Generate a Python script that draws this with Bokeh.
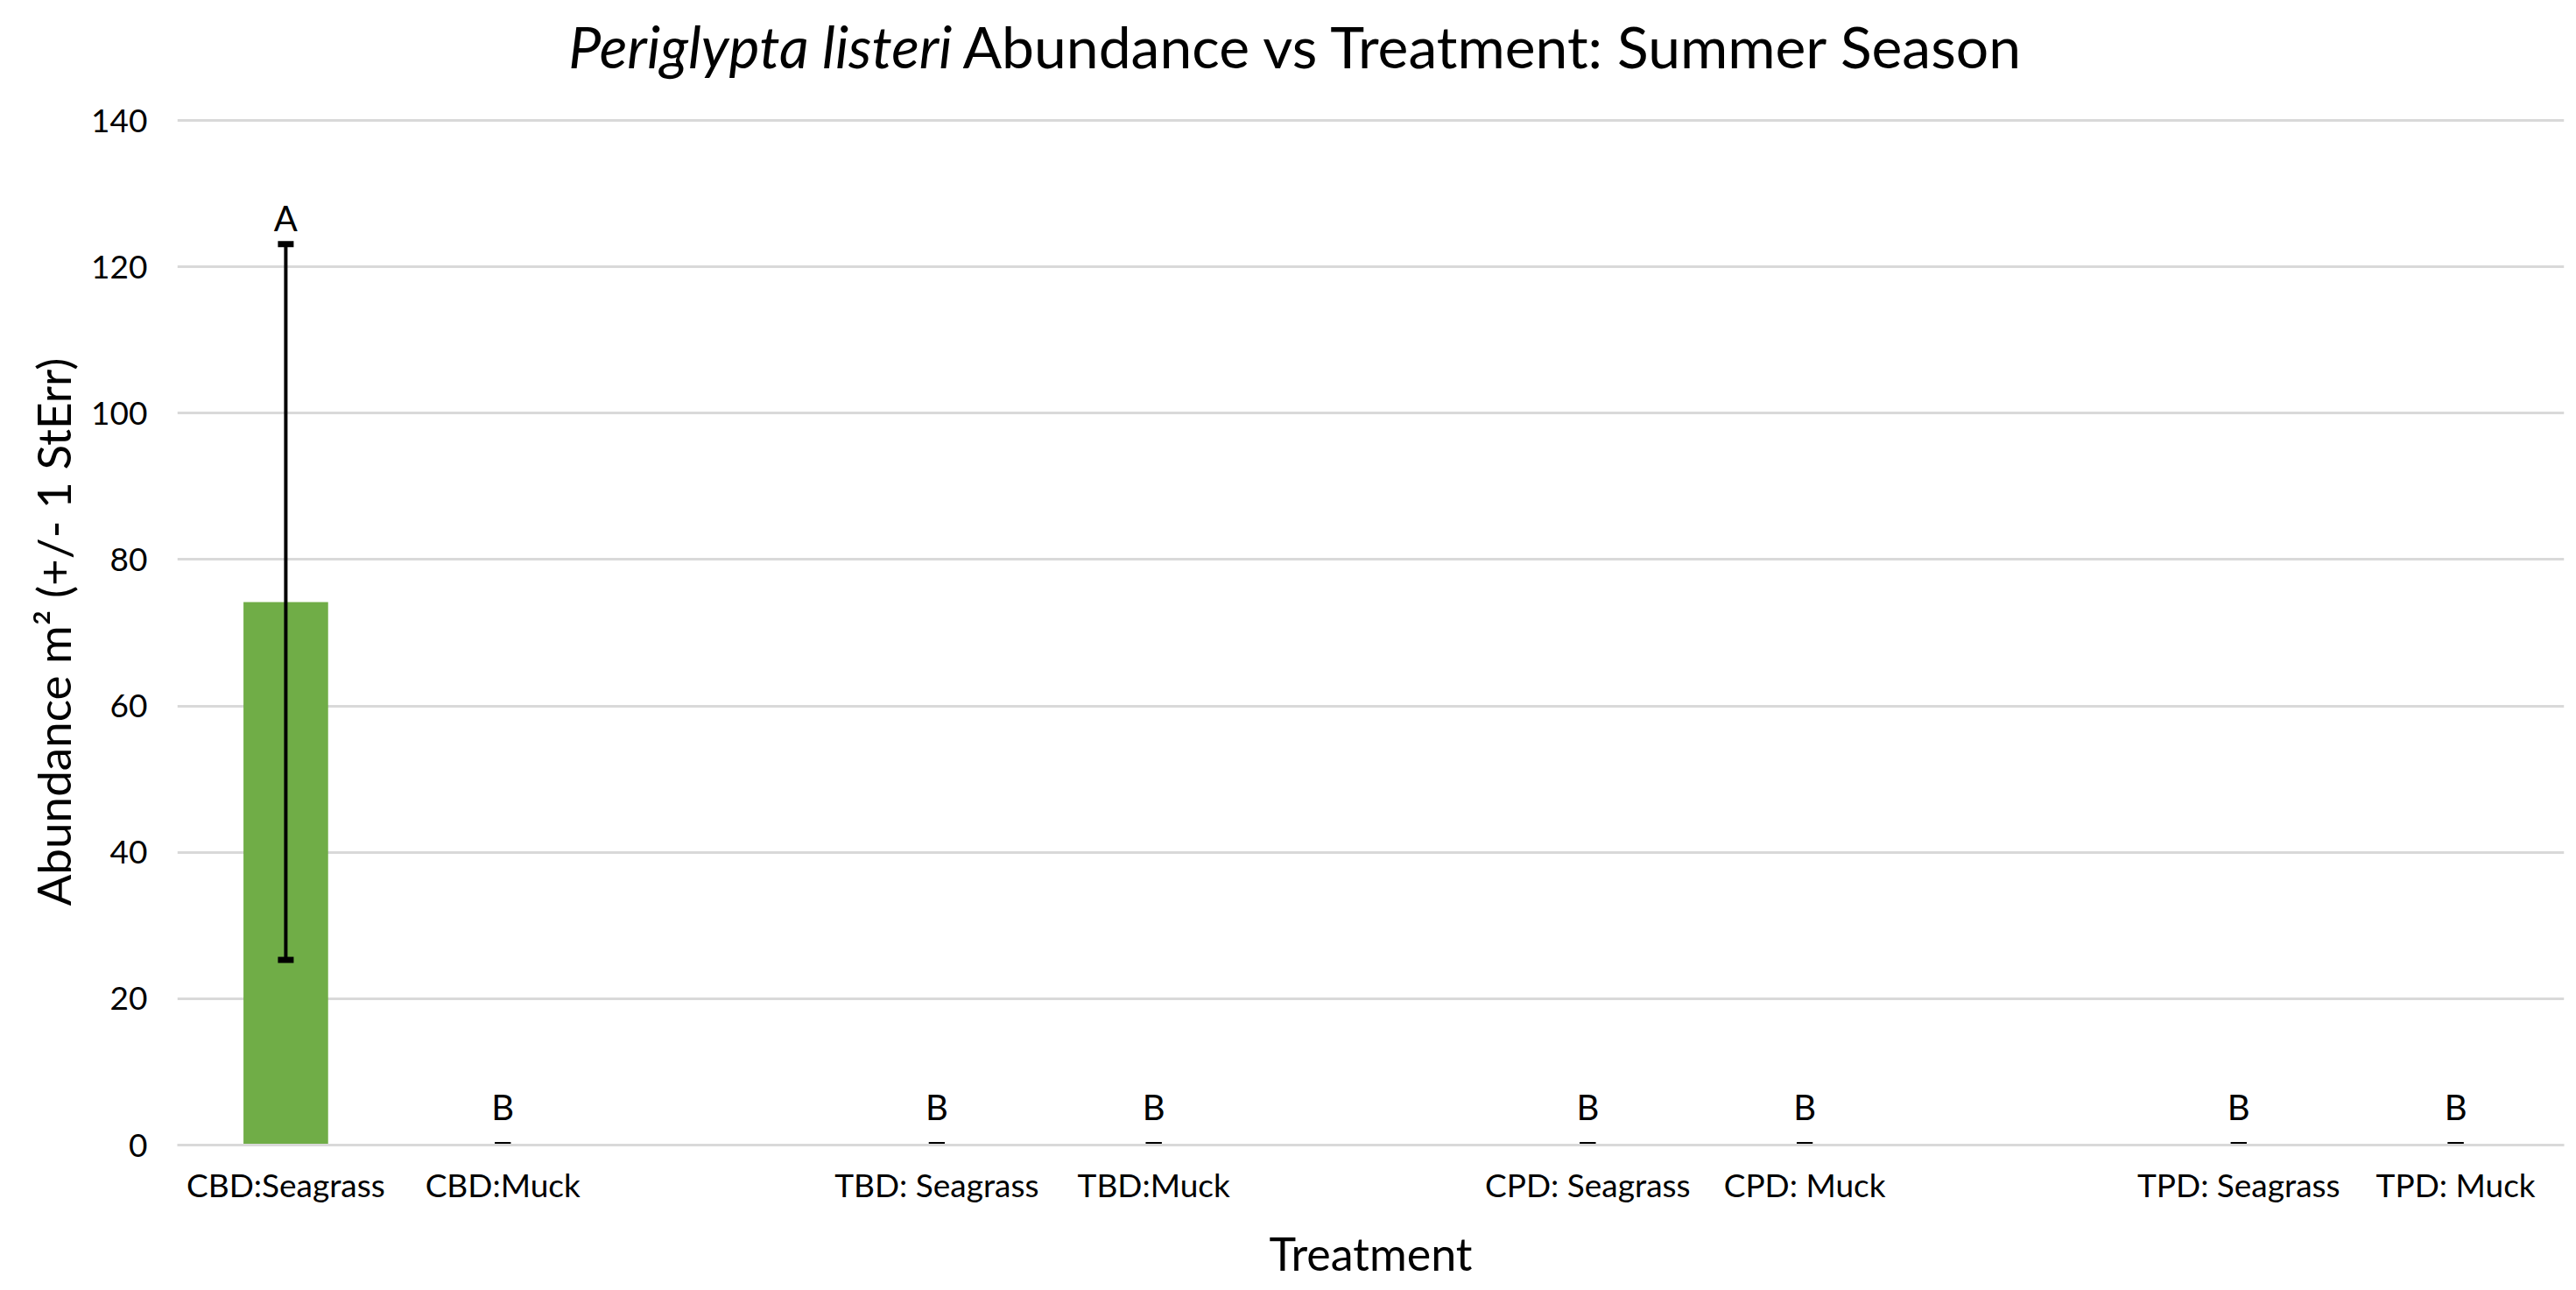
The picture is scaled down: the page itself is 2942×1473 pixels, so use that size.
from bokeh.plotting import figure
from bokeh.layouts import column
from bokeh.models import FactorRange, Range1d, ColumnDataSource, FixedTicker
from bokeh.embed import file_html
from bokeh.resources import INLINE
from bokeh.core.properties import value

# ---- data ----
sites = ["CBD", "CBD", "TBD", "TBD", "CPD", "CPD", "TPD", "TPD"]
treatments = ["CBD:Seagrass", "CBD:Muck", "TBD: Seagrass", "TBD:Muck",
              "CPD: Seagrass", "CPD: Muck", "TPD: Seagrass", "TPD: Muck"]
means = [74.2, 0, 0, 0, 0, 0, 0, 0]
stderr = [48.9, 0, 0, 0, 0, 0, 0, 0]
letters = ["A", "B", "B", "B", "B", "B", "B", "B"]
y_ticks = [0, 20, 40, 60, 80, 100, 120, 140]
title_italic = "Periglypta listeri"
title_rest = "Abundance vs Treatment: Summer Season"
x_title = "Treatment"
y_title = "Abundance m\u00b2 (+/- 1 StErr)"

FONT = "Lato"
W = 2942
H = 1473
TITLE_H = 110
MAIN_H = H - TITLE_H
LEFT, RIGHT = 202, 14

factors = list(zip(sites, treatments))
upper = [m + s for m, s in zip(means, stderr)]
lower = [m - s for m, s in zip(means, stderr)]
src = ColumnDataSource(dict(x=factors, top=means, upper=upper, lower=lower, letter=letters))

# ---- title strip (x units = page pixels) ----
tf = figure(width=W, height=TITLE_H, x_range=Range1d(LEFT, W - RIGHT), y_range=Range1d(0, TITLE_H),
            output_backend="svg", toolbar_location=None,
            min_border_left=LEFT, min_border_right=RIGHT, min_border_top=0, min_border_bottom=0)
tf.axis.visible = False
tf.grid.visible = False
tf.outline_line_color = None
tf.text(x=[1087], y=[TITLE_H - 52], text=[title_italic], text_font=value(FONT),
        text_font_size="66px", text_font_style="italic", text_align="right",
        text_baseline="alphabetic", text_color="black")
tf.text(x=[1099], y=[TITLE_H - 52], text=[title_rest], text_font=value(FONT),
        text_font_size="66px", text_font_style="normal", text_align="left",
        text_baseline="alphabetic", text_color="black")

# ---- main chart ----
p = figure(
    width=W, height=MAIN_H,
    x_range=FactorRange(factors=factors, group_padding=1.0, range_padding=0),
    y_range=Range1d(0, 140.24),
    output_backend="svg", toolbar_location=None,
    min_border_left=LEFT, min_border_right=RIGHT, min_border_top=135 - TITLE_H,
    min_border_bottom=H - 1307,
)
p.outline_line_color = None

p.vbar(x="x", top="top", width=0.39, source=src, fill_color="#70AD47", line_color=None)
p.segment(x0="x", y0="lower", x1="x", y1="upper", source=src, line_color="black", line_width=4)
p.rect(x="x", y="upper", width=18, height=7, width_units="screen", height_units="screen",
       source=src, fill_color="black", line_color=None)
p.rect(x="x", y="lower", width=18, height=7, width_units="screen", height_units="screen",
       source=src, fill_color="black", line_color=None)

# significance letters
idx_a = [i for i, s in enumerate(stderr) if s > 0]
idx_b = [i for i, s in enumerate(stderr) if s == 0]
for idx, off in ((idx_a, -30), (idx_b, -44)):
    p.text(x=[factors[i] for i in idx], y=[upper[i] for i in idx], text=[letters[i] for i in idx],
           text_font=value(FONT), text_font_size="40px", text_align="center",
           text_baseline="alphabetic", y_offset=off, text_color="black")

# axes
p.yaxis.ticker = FixedTicker(ticks=y_ticks)
p.yaxis.axis_line_color = None
p.yaxis.major_tick_line_color = None
p.yaxis.minor_tick_line_color = None
p.yaxis.major_label_standoff = 28
p.yaxis.major_label_text_font = FONT
p.yaxis.major_label_text_font_size = "37px"
p.yaxis.major_label_text_color = "black"
p.yaxis.axis_label = y_title
p.yaxis.axis_label_text_font = FONT
p.yaxis.axis_label_text_font_size = "53px"
p.yaxis.axis_label_text_font_style = "normal"
p.yaxis.axis_label_text_color = "black"
p.yaxis.axis_label_standoff = 9

p.xaxis.axis_line_color = "#D9D9D9"
p.xaxis.axis_line_width = 3
p.xaxis.major_tick_line_color = None
p.xaxis.minor_tick_line_color = None
p.xaxis.major_label_standoff = 16
p.xaxis.major_label_text_font = FONT
p.xaxis.major_label_text_font_size = "37px"
p.xaxis.major_label_text_color = "black"
p.xaxis.group_text_color = None
p.xaxis.group_text_font_size = "0px"
p.xaxis.separator_line_color = None
p.xaxis.axis_label = x_title
p.xaxis.axis_label_text_font = FONT
p.xaxis.axis_label_text_font_size = "52px"
p.xaxis.axis_label_text_font_style = "normal"
p.xaxis.axis_label_text_color = "black"
p.xaxis.axis_label_standoff = 22

p.xgrid.grid_line_color = None
p.ygrid.grid_line_color = "#D9D9D9"
p.ygrid.grid_line_width = 3

layout = column(tf, p, spacing=0)
open("out.html", "w").write(file_html(layout, INLINE))
